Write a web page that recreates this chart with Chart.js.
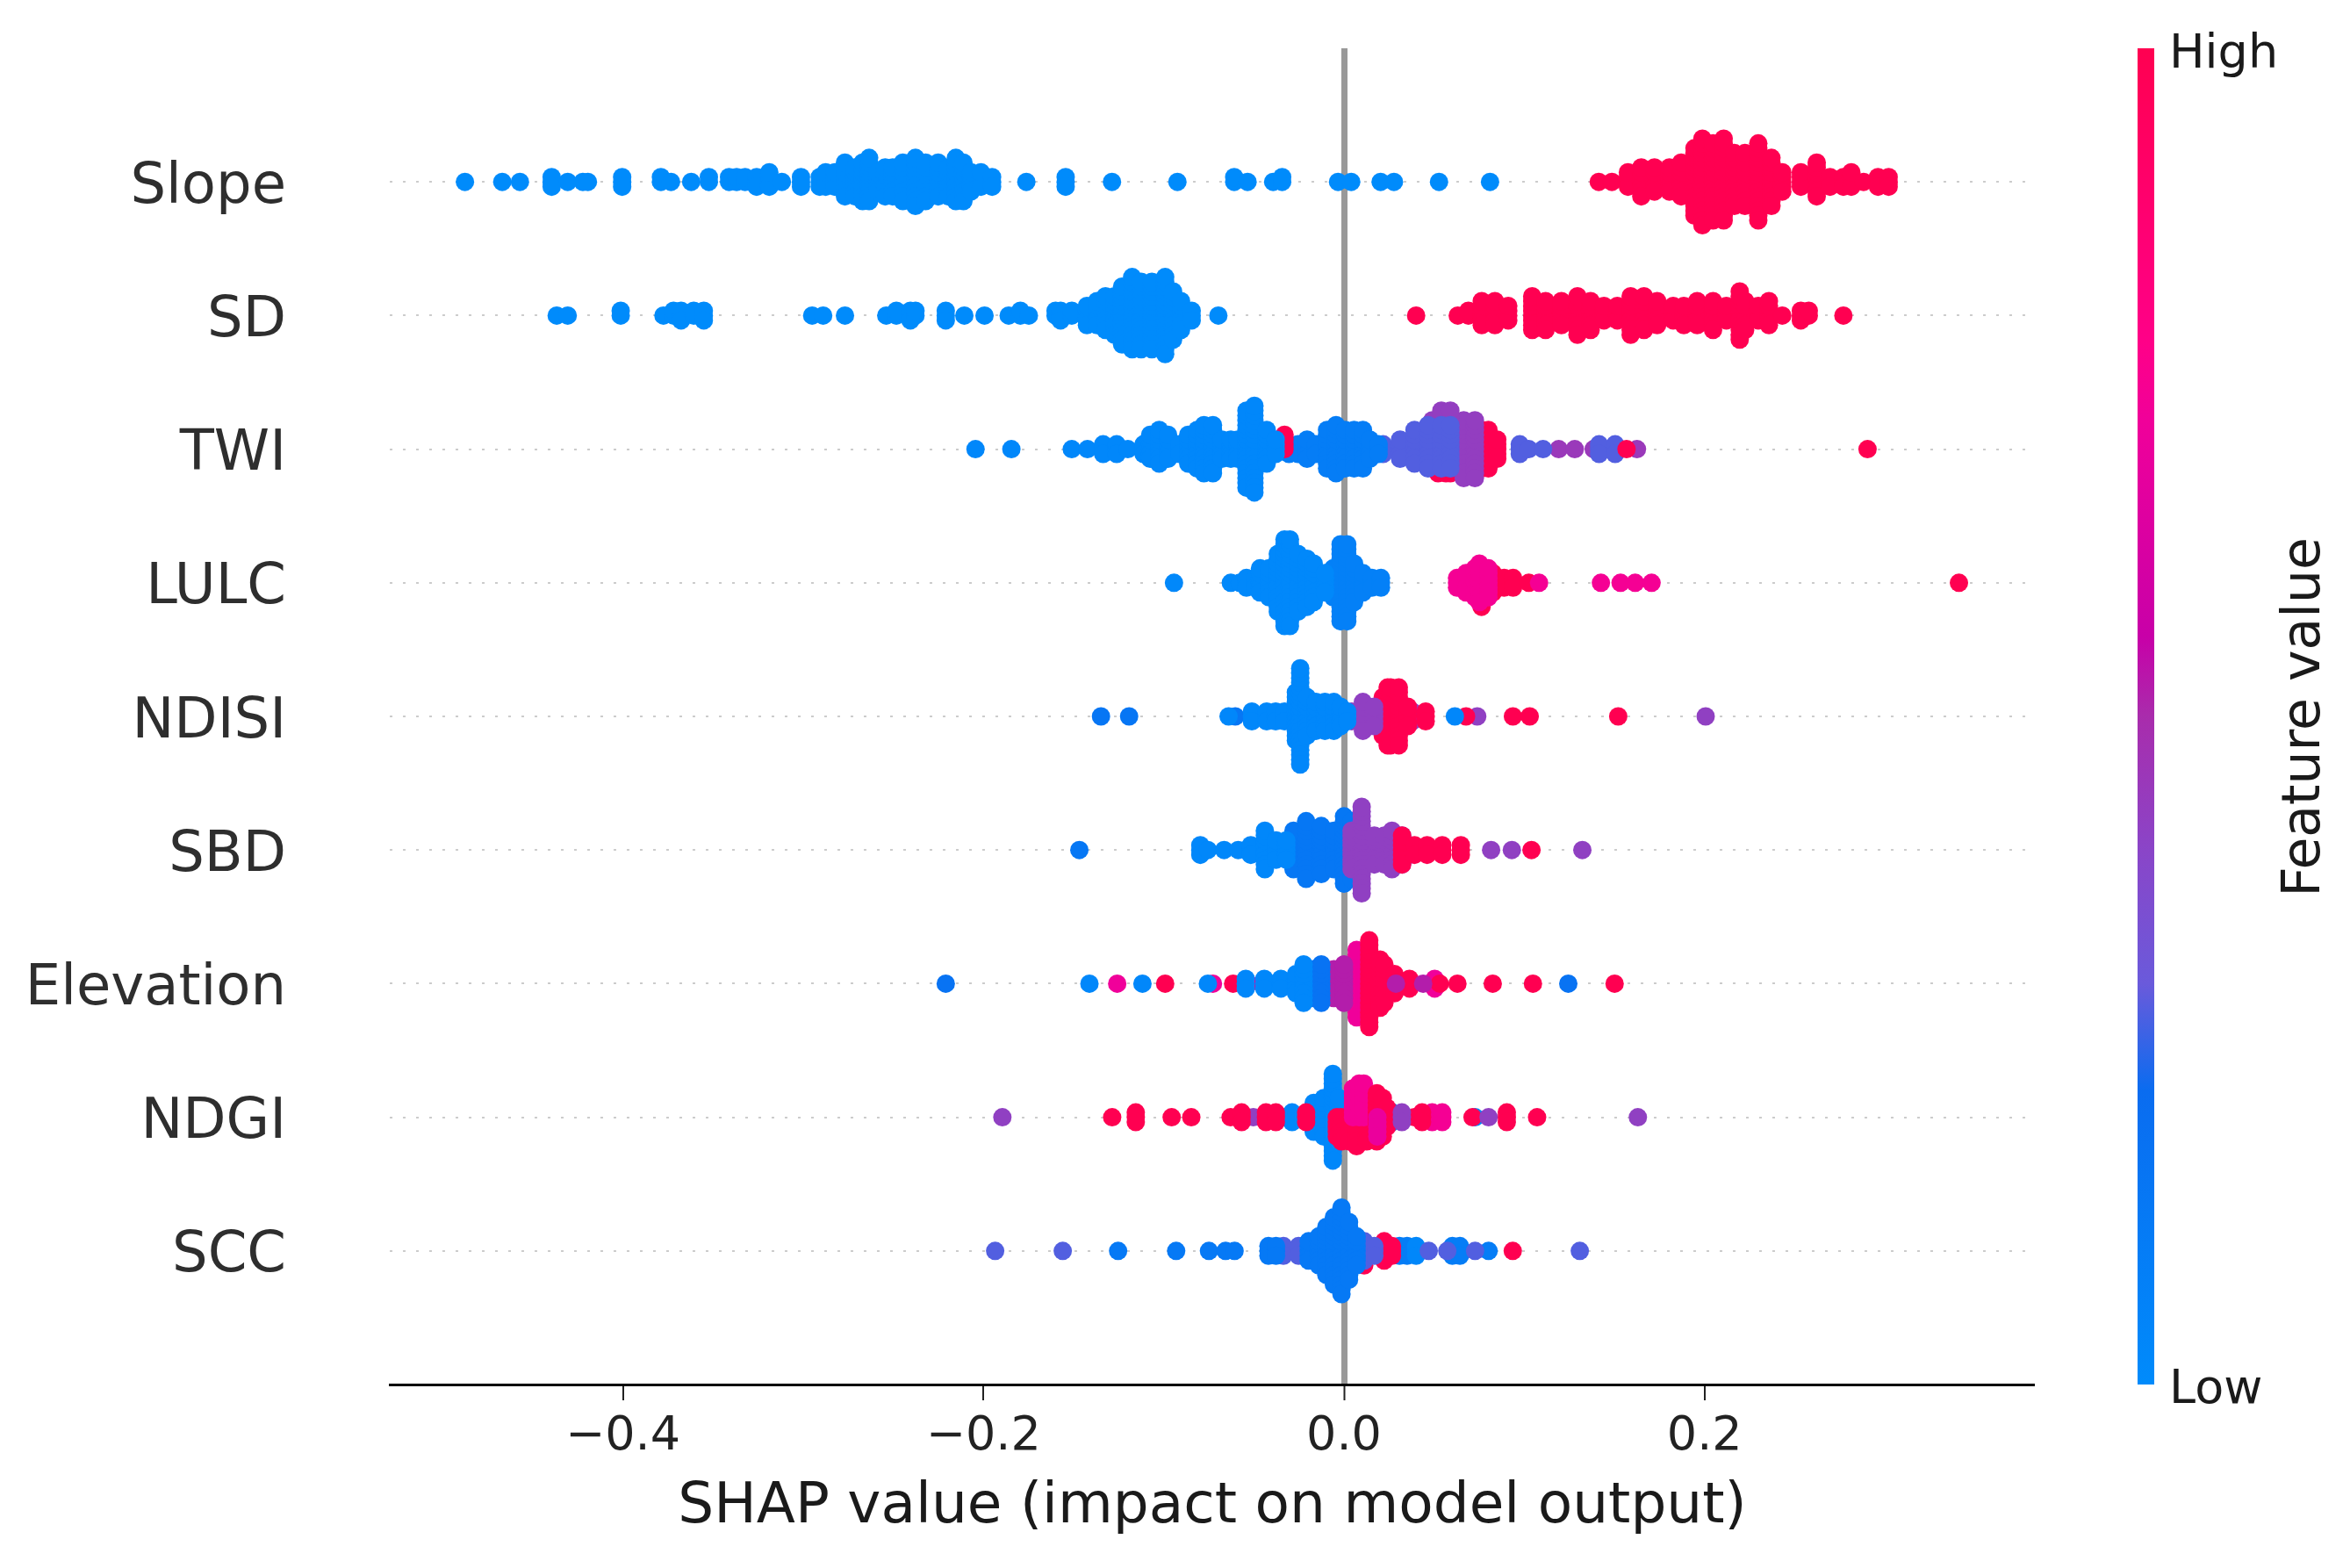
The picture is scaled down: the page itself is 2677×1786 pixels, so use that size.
<!DOCTYPE html>
<html>
<head>
<meta charset="utf-8">
<style>html,body{margin:0;background:#fff}canvas{display:block}</style>
<script src="https://cdn.jsdelivr.net/npm/chart.js@4"></script>
</head>
<body>
<canvas id="shapChart" width="2677" height="1786" style="width:2677px;height:1786px"></canvas>
<script>
// each *Shap array is a list of SHAP values, *Count is how many samples pile up at that value
const features = ['Slope', 'SD', 'TWI', 'LULC', 'NDISI', 'SBD', 'Elevation', 'NDGI', 'SCC'];
const xTicks = [-0.4, -0.2, 0, 0.2];

const slopeLowShap = [-.4876,-.4669,-.4571,-.4395,-.4306,-.4222,-.4194,-.4004,-.3789,-.3733,-.3621,-.3523,-.3411,-.3369,-.3322,-.3258,-.3188,-.3118,-.3012,-.2908,-.2875,-.2824,-.2768,-.2712,-.2670,-.2634,-.2587,-.2545,-.2503,-.2447,-.2377,-.2321,-.2251,-.2195,-.2153,-.2111,-.2069,-.2014,-.1952,-.1762,-.1544,-.1287,-.0924,-.0609,-.0535,-.0393,-.0343,-.0033,.0040,.0203,.0277,.0527,.0810];
const slopeLowCount = [1,1,1,3,1,1,1,3,2,1,1,2,2,2,2,3,4,1,3,3,4,4,8,7,9,10,5,7,7,9,11,9,8,7,10,9,5,4,3,1,3,1,1,2,1,1,2,1,1,1,1,1,1];
const slopeHighShap = [.1413,.1486,.1575,.1649,.1722,.1805,.1870,.1944,.1988,.2047,.2106,.2165,.2224,.2298,.2371,.2431,.2534,.2622,.2696,.2770,.2814,.2882,.2962,.3021];
const slopeHighCount = [1,1,4,7,6,6,8,15,19,17,18,12,12,17,11,5,4,8,3,3,4,1,3,3];

const sdLowShap = [-.4367,-.4306,-.4012,-.3775,-.3719,-.3677,-.3607,-.3551,-.2950,-.2889,-.2768,-.2539,-.2483,-.2405,-.2377,-.2209,-.2106,-.1994,-.1860,-.1795,-.1748,-.1600,-.1572,-.1510,-.1426,-.1370,-.1323,-.1273,-.1231,-.1175,-.1125,-.1066,-.0992,-.0948,-.0904,-.0845,-.0697];
const sdLowCount = [1,1,2,1,2,3,2,3,1,1,1,1,2,3,2,3,1,1,1,2,1,2,3,2,5,6,8,9,13,16,15,15,17,11,7,3,1];
const sdHighShap = [.0400,.0631,.0690,.0764,.0837,.0911,.1044,.1118,.1206,.1295,.1368,.1442,.1516,.1590,.1664,.1737,.1826,.1885,.1959,.2047,.2121,.2195,.2225,.2298,.2357,.2431,.2534,.2578,.2770];
const sdHighCount = [1,1,2,6,6,4,8,7,6,9,7,4,4,9,8,6,4,5,6,7,4,11,7,4,6,1,3,2,1];

const twiBlueShap = [-.2044,-.1845,-.1510,-.1423,-.1336,-.1261,-.1199,-.1112,-.1075,-.1025,-.0976,-.0913,-.0864,-.0814,-.0777,-.0727,-.0677,-.0628,-.0590,-.0541,-.0497,-.0429,-.0379];
const twiBlueCount = [1,1,1,1,3,3,1,3,6,8,6,3,7,9,11,11,5,5,5,17,19,8,4];
const twiRedUpShap = [-.0330];
const twiRedUpCount = [4];
const twiCentreShap = [-.0305,-.0255,-.0205,-.0156,-.0094,-.0044,.0006,.0056,.0105,.0143,.0192];
const twiCentreCount = [3,3,5,3,9,11,9,9,9,5,3];
const twiMixShap = [.0217,.0311,.0391,.0466,.0540,.0590];
const twiMixCount = [3,5,8,10,10,10];
const twiPurpleUpShap = [.0490,.0540,.0590];
const twiPurpleUpCount = [7,9,9];
const twiPurpleShap = [.0664,.0726];
const twiPurpleCount = [13,13];
const twiRedLowShap = [.0522,.0565,.0590];
const twiRedLowCount = [6,6,6];
const twiRedShap = [.0726,.0763,.0801,.0850,.1567,.2904];
const twiRedCount = [7,9,9,5,1,1];
const twiOverShap = [.0690,.0801,.0975,.1025,.1104,.1415,.1504];
const twiOverCount = [5,5,3,1,1,3,3];
const twiEndShap = [.1191,.1280,.1385,.1625];
const twiEndCount = [1,1,1,1];

const lulcBlueShap = [-.0943,-.0628,-.0578,-.0541,-.0491,-.0466,-.0416,-.0367,-.0330,-.0300,-.0255,-.0205,-.0168,-.0106];
const lulcBlueCount = [1,1,1,3,3,6,7,13,19,19,13,11,9,5];
const lulcMidShap = [-.0060,-.0019,.0018,.0056,.0105,.0155,.0205];
const lulcMidCount = [7,17,17,9,5,3,3];
const lulcMagentaShap = [.0627,.0677,.0726,.0751,.0801,.1082,.1425,.1534,.1615,.1706];
const lulcMagentaCount = [3,5,7,9,7,1,1,1,1,1];
const lulcRedLowShap = [.0763];
const lulcRedLowCount = [6];
const lulcRedShap = [.0826,.0888,.0938,.1025,.3411];
const lulcRedCount = [5,3,3,1,1];

const ndisiBlueShap = [-.0640,-.0511,-.0429,-.0379,-.0330,-.0267,-.0243,-.0205,-.0156,-.0106,-.0056,-.0019,.0018,.0615];
const ndisiBlueCount = [1,3,3,3,3,11,21,9,7,7,7,5,3,1];
const ndisiDarkShap = [-.1348,-.1192,-.0603,-.0056];
const ndisiDarkCount = [1,1,1,5];
const ndisiPurpleShap = [.0043,.0105,.0167];
const ndisiPurpleCount = [3,7,5];
const ndisiRedShap = [.0180,.0215,.0242,.0259,.0304,.0354,.0453,.0677,.0937,.1030,.1521];
const ndisiRedCount = [5,9,13,13,13,5,3,1,1,1,1];
const ndisiOverShap = [.0242,.0378,.0441,.0739,.2006];
const ndisiOverCount = [1,3,1,1,1];

const sbdLightShap = [-.0797,-.0755,-.0665,-.0587,-.0517,-.0439,-.0377,-.0320];
const sbdLightCount = [3,1,1,1,3,9,5,5];
const sbdRedShap = [.0322,.0391,.0461,.0545,.0648,.1040];
const sbdRedCount = [7,3,3,3,3,1];
const sbdPurpleShap = [.0042,.0098,.0168,.0224,.0266,.0322,.0363,.0816,.0931,.1322];
const sbdPurpleCount = [9,19,7,7,9,7,3,1,1,1];
const sbdDarkShap = [-.1468,-.0280,-.0210,-.0126,-.0056,.0000,.0042,.0070];
const sbdDarkCount = [1,9,13,11,9,15,13,5];

const elevLightShap = [-.1412,-.1118,-.0755,-.0545,-.0442,-.0350,-.0266,-.0224];
const elevLightCount = [1,1,1,3,3,3,5,9];
const elevDarkShap = [-.2209,-.0170,-.0126,.1244];
const elevDarkCount = [1,7,9,1];
const elevPurpleShap = [-.0056,.0000,.0288,.0439];
const elevPurpleCount = [7,9,1,1];
const elevRedShap = [-.0992,-.0615,.0140,.0200,.0224,.0280,.0363,.0531,.0629,.0825,.1048,.1501];
const elevRedCount = [1,1,19,11,9,5,3,1,1,1,1,1];
const elevMagentaShap = [-.1258,-.0727,-.0530,-.0154,.0070,.0503];
const elevMagentaCount = [1,1,1,1,15,3];

const ndgiRedLeftShap = [-.1286,-.1155,-.0956,-.0847,-.0629,-.0568,-.0433,-.0378,-.0210];
const ndgiRedLeftCount = [1,3,1,1,1,3,3,3,3];
const ndgiPurpleShap = [-.1895,-.0503,.0321,.0802,.1630];
const ndgiPurpleCount = [1,1,3,1,1];
const ndgiBlueLeftShap = [-.0340,-.0288];
const ndgiBlueLeftCount = [1,3];
const ndgiMagentaLowShap = [.0185];
const ndgiMagentaLowCount = [5];
const ndgiRedRightShap = [-.0288,.0182,.0215,.0238,.0391,.0433,.0713,.0903,.1071];
const ndgiRedRightCount = [1,11,9,5,1,3,1,3,1];
const ndgiMagentaUpShap = [.0050,.0084,.0110];
const ndgiMagentaUpCount = [7,8,8];
const ndgiRedLowShap = [-.0040,-.0014,.0030,.0070,.0126];
const ndgiRedLowCount = [5,6,6,7,6];
const ndgiBlueShap = [-.0168,-.0112,-.0062,-.0028,.0266,.0727];
const ndgiBlueCount = [7,9,19,9,3,1];
const ndgiMagentaShap = [.0489,.0545];
const ndgiMagentaCount = [3,3];

const sccRedLowShap = [.0112];
const sccRedLowCount = [4];
const sccBlueShap = [-.1253,-.0931,-.0749,-.0657,-.0607,-.0419,-.0377,-.0196,-.0140,-.0098,-.0056,-.0014,.0028,.0070];
const sccBlueCount = [1,1,1,1,1,3,3,5,7,11,15,19,13,7];
const sccMixShap = [-.1935,-.1560,-.0336,-.0252,.0112,.0168,.0470,.0573,.0727,.1308];
const sccMixCount = [1,1,3,3,5,3,1,1,1,1];
const sccRedShap = [.0223,.0266,.0936];
const sccRedCount = [5,3,1];
const sccLightShap = [-.0056,.0000,.0400];
const sccLightCount = [5,5,3];
const sccMidShap = [.0308,.0350,.0601,.0643,.0802];
const sccMidCount = [3,3,3,3,1];

// feature level of each group (0 low .. 1 high), side: 0 both ways, 1 stacks up, -1 stacks down
const rowGroups = [
  [[0, slopeLowShap, slopeLowCount], [1, slopeHighShap, slopeHighCount]],
  [[0, sdLowShap, sdLowCount], [1, sdHighShap, sdHighCount]],
  [[.03, twiBlueShap, twiBlueCount], [1, twiRedUpShap, twiRedUpCount, 1], [.1, twiCentreShap, twiCentreCount], [.28, twiMixShap, twiMixCount], [.43, twiPurpleUpShap, twiPurpleUpCount, 1], [.43, twiPurpleShap, twiPurpleCount], [1, twiRedLowShap, twiRedLowCount, -1], [1, twiRedShap, twiRedCount], [.28, twiOverShap, twiOverCount], [.45, twiEndShap, twiEndCount]],
  [[.02, lulcBlueShap, lulcBlueCount], [.08, lulcMidShap, lulcMidCount], [.74, lulcMagentaShap, lulcMagentaCount], [1, lulcRedLowShap, lulcRedLowCount, -1], [1, lulcRedShap, lulcRedCount]],
  [[.03, ndisiBlueShap, ndisiBlueCount], [.15, ndisiDarkShap, ndisiDarkCount], [.42, ndisiPurpleShap, ndisiPurpleCount], [1, ndisiRedShap, ndisiRedCount], [.42, ndisiOverShap, ndisiOverCount]],
  [[.03, sbdLightShap, sbdLightCount], [1, sbdRedShap, sbdRedCount], [.42, sbdPurpleShap, sbdPurpleCount], [.14, sbdDarkShap, sbdDarkCount]],
  [[.03, elevLightShap, elevLightCount], [.17, elevDarkShap, elevDarkCount], [.52, elevPurpleShap, elevPurpleCount], [1, elevRedShap, elevRedCount], [.72, elevMagentaShap, elevMagentaCount]],
  [[1, ndgiRedLeftShap, ndgiRedLeftCount], [.42, ndgiPurpleShap, ndgiPurpleCount], [.02, ndgiBlueLeftShap, ndgiBlueLeftCount], [.7, ndgiMagentaLowShap, ndgiMagentaLowCount, -1], [1, ndgiRedRightShap, ndgiRedRightCount], [.74, ndgiMagentaUpShap, ndgiMagentaUpCount, 1], [1, ndgiRedLowShap, ndgiRedLowCount, -1], [.03, ndgiBlueShap, ndgiBlueCount], [.74, ndgiMagentaShap, ndgiMagentaCount]],
  [[.13, sccBlueShap, sccBlueCount], [.28, sccMixShap, sccMixCount], [1, sccRedLowShap, sccRedLowCount, -1], [.28, sccMixShap.slice(4, 5), [3]], [1, sccRedShap, sccRedCount], [.03, sccLightShap, sccLightCount], [.1, sccMidShap, sccMidCount]]
];

// red_blue colormap
const mapStops = [[0,'#008bfb'],[.22,'#0a6cf0'],[.3,'#6a5adb'],[.4,'#8a45c8'],[.5,'#a92cac'],[.56,'#c800a8'],[.72,'#f0009a'],[.78,'#ff0088'],[1,'#ff0051']];
const layerStep = 0.036; // one swarm layer in row units

function hexRgb(h) {
  return [1, 3, 5].map(i => parseInt(h.substr(i, 2), 16));
}
function levelColor(t) {
  let i = 0;
  while (i < mapStops.length - 2 && t > mapStops[i + 1][0]) i++;
  const a = mapStops[i], b = mapStops[i + 1];
  const f = (t - a[0]) / (b[0] - a[0]);
  const ca = hexRgb(a[1]), cb = hexRgb(b[1]);
  const c = ca.map((v, k) => Math.round(v + (cb[k] - v) * f));
  return 'rgb(' + c.join(',') + ')';
}

// pile the samples of one value the way shap's beeswarm does: 0, +1, -1, +2, -2 ...
function swarmPoints(row, shap, count, side) {
  const pts = [];
  shap.forEach((v, i) => {
    for (let k = 0; k < count[i]; k++) {
      let layer = Math.ceil(k / 2) * (k % 2 ? 1 : -1);
      if (side) layer = k * side;
      pts.push({ x: v, y: row - layer * layerStep });
    }
  });
  return pts;
}

const datasets = [];
rowGroups.forEach((groups, row) => {
  groups.forEach(g => {
    datasets.push({
      label: features[row],
      data: swarmPoints(row, g[1], g[2], g[3] || 0),
      backgroundColor: levelColor(g[0]),
      pointRadius: 10.5,
      pointBorderWidth: 0,
      pointHoverRadius: 10.5
    });
  });
});

const colorBar = {
  id: 'colorBar',
  afterDraw(chart) {
    const ctx = chart.ctx;
    const top = chart.scales.y.getPixelForValue(-1);
    const bottom = chart.scales.y.getPixelForValue(9);
    const grad = ctx.createLinearGradient(0, bottom, 0, top);
    mapStops.forEach(s => grad.addColorStop(s[0], s[1]));
    ctx.save();
    ctx.fillStyle = grad;
    ctx.fillRect(2435, top, 19, bottom - top);
    ctx.fillStyle = '#1a1a1a';
    ctx.font = '54px "DejaVu Sans"';
    ctx.textAlign = 'left';
    ctx.textBaseline = 'alphabetic';
    ctx.fillText('High', 2471, 77);
    ctx.fillText('Low', 2471, 1598);
    ctx.translate(2626, 817);
    ctx.rotate(-Math.PI / 2);
    ctx.textAlign = 'center';
    ctx.textBaseline = 'middle';
    ctx.font = '60px "DejaVu Sans"';
    ctx.fillText('Feature value', 0, 0);
    ctx.restore();
  }
};

new Chart(document.getElementById('shapChart').getContext('2d'), {
  type: 'scatter',
  data: { datasets: datasets },
  plugins: [colorBar],
  options: {
    responsive: false,
    animation: false,
    devicePixelRatio: 1,
    layout: { padding: { top: 55, right: 359, left: 0, bottom: 0 } },
    plugins: { legend: { display: false }, tooltip: { enabled: false } },
    scales: {
      x: {
        type: 'linear',
        min: -0.5293,
        max: 0.3832,
        afterFit: s => { s.height = 209; s.paddingLeft = 0; s.paddingRight = 0; },
        afterBuildTicks: s => { s.ticks = xTicks.map(v => ({ value: v })); },
        border: { color: '#000', width: 3 },
        grid: {
          color: c => (Math.abs(c.tick.value) < 1e-9 ? '#999999' : 'rgba(0,0,0,0)'),
          lineWidth: c => (Math.abs(c.tick.value) < 1e-9 ? 7 : 0),
          tickColor: '#222',
          tickWidth: 2,
          tickLength: 18
        },
        ticks: {
          color: '#222',
          font: { family: 'DejaVu Sans', size: 54 },
          padding: 10,
          maxRotation: 0,
          includeBounds: false,
          callback: v => (v < -1e-9 ? '\u2212' : '') + Math.abs(v).toFixed(1)
        },
        title: {
          display: true,
          text: 'SHAP value (impact on model output)',
          color: '#1a1a1a',
          font: { family: 'DejaVu Sans', size: 64.5 },
          padding: { top: 0, bottom: 30 }
        }
      },
      y: {
        type: 'linear',
        reverse: true,
        min: -1,
        max: 9,
        afterFit: s => { s.width = 444; s.paddingTop = 0; s.paddingBottom = 0; },
        border: { display: false, dash: [3, 12] },
        grid: {
          color: c => (c.tick.value >= 0 && c.tick.value <= 8 ? '#cccccc' : 'rgba(0,0,0,0)'),
          lineWidth: 2,
          drawTicks: false
        },
        ticks: {
          stepSize: 1,
          autoSkip: false,
          includeBounds: false,
          color: '#2e2e2e',
          font: { family: 'DejaVu Sans', size: 64 },
          padding: 118,
          labelOffset: 7,
          callback: v => features[v] || ''
        }
      }
    }
  }
});
</script>
</body>
</html>
